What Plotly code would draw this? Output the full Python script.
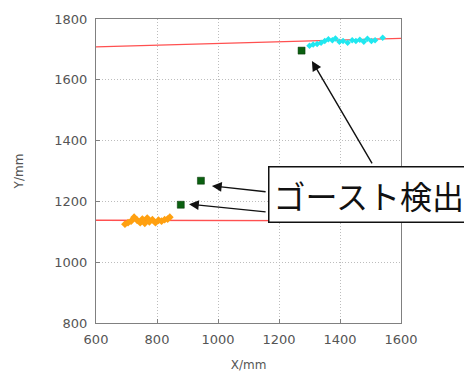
import plotly.graph_objects as go

# ---- data ----
orange_x = [695, 705, 715, 725, 735, 745, 752, 760, 768, 775, 785, 795, 805, 815, 825, 835, 842]
orange_y = [1125, 1130, 1135, 1148, 1138, 1130, 1142, 1128, 1145, 1133, 1140, 1130, 1138, 1135, 1140, 1142, 1148]

cyan_x = [1300, 1312, 1325, 1338, 1350, 1362, 1375, 1385, 1398, 1410, 1425, 1440, 1452,
          1465, 1478, 1490, 1503, 1515, 1540]
cyan_y = [1712, 1716, 1718, 1722, 1728, 1733, 1730, 1736, 1725, 1728, 1722, 1730, 1728,
          1732, 1725, 1735, 1728, 1730, 1738]

ghost_x = [944, 878, 1274]
ghost_y = [1268, 1189, 1696]

line_top_x = [600, 1600]
line_top_y = [1708, 1736]
line_bot_x = [600, 1600]
line_bot_y = [1138, 1136]

x_ticks = [600, 800, 1000, 1200, 1400, 1600]
y_ticks = [800, 1000, 1200, 1400, 1600, 1800]

label_text = "ゴースト検出"
# arrow (head x, head y, tail x, tail y) in data units
arrows = [(980, 1251, 1161, 1231), (905, 1191, 1161, 1165), (1308, 1662, 1508, 1320)]

fig = go.Figure()
fig.add_trace(go.Scatter(x=line_top_x, y=line_top_y, mode="lines",
                         line=dict(color="#ff5050", width=1.3), showlegend=False))
fig.add_trace(go.Scatter(x=line_bot_x, y=line_bot_y, mode="lines",
                         line=dict(color="#ff5050", width=1.3), showlegend=False))
fig.add_trace(go.Scatter(x=orange_x, y=orange_y, mode="markers",
                         marker=dict(color="#ffa010", size=6, symbol="diamond"), showlegend=False))
fig.add_trace(go.Scatter(x=cyan_x, y=cyan_y, mode="markers",
                         marker=dict(color="#20e8f0", size=5, symbol="diamond"), showlegend=False))
fig.add_trace(go.Scatter(x=ghost_x, y=ghost_y, mode="markers",
                         marker=dict(color="#0a6010", size=7, symbol="square",
                                     line=dict(color="#003000", width=0.5)), showlegend=False))

axis_common = dict(
    showline=True, linecolor="#808080", linewidth=1.2, mirror=True,
    showgrid=True, gridcolor="#bdbdbd", griddash="1px,2px", gridwidth=1,
    ticks="inside", ticklen=4, tickcolor="#808080",
    zeroline=False, automargin=False,
    tickfont=dict(family="DejaVu Sans", size=13, color="#555555"),
)

fig.update_xaxes(range=[600, 1600], tickvals=x_ticks, ticklabelstandoff=4, **axis_common,
                 title=dict(text="X/mm", font=dict(family="DejaVu Sans", size=12, color="#555555"),
                            standoff=14))
fig.update_yaxes(range=[800, 1800], tickvals=y_ticks, ticklabelstandoff=5, **axis_common,
                 title=dict(text="Y/mm", font=dict(family="DejaVu Sans", size=12, color="#555555"),
                            standoff=28))

for hx, hy, tx, ty in arrows:
    fig.add_annotation(x=hx, y=hy, ax=tx, ay=ty, xref="x", yref="y", axref="x", ayref="y",
                       text="", showarrow=True, arrowhead=2, arrowsize=1.4, arrowwidth=1.4,
                       arrowcolor="#111111")

# small shadow under label box
fig.add_shape(type="rect", xref="paper", yref="paper", x0=1.187, x1=1.25, y0=0.334, y1=0.346,
              fillcolor="#111111", line=dict(width=0), layer="above")

fig.add_annotation(x=0.895, y=0.424, xref="paper", yref="paper", xanchor="center", yanchor="middle",
                   text=label_text,
                   showarrow=False, bgcolor="white", bordercolor="#111111", borderwidth=1.5,
                   borderpad=4, font=dict(family="Noto Sans CJK JP", size=32, color="#111111"))

fig.update_layout(width=472, height=372, margin=dict(l=88, r=79, t=11, b=57),
                  plot_bgcolor="white", paper_bgcolor="white")

fig.write_html("out.html")
